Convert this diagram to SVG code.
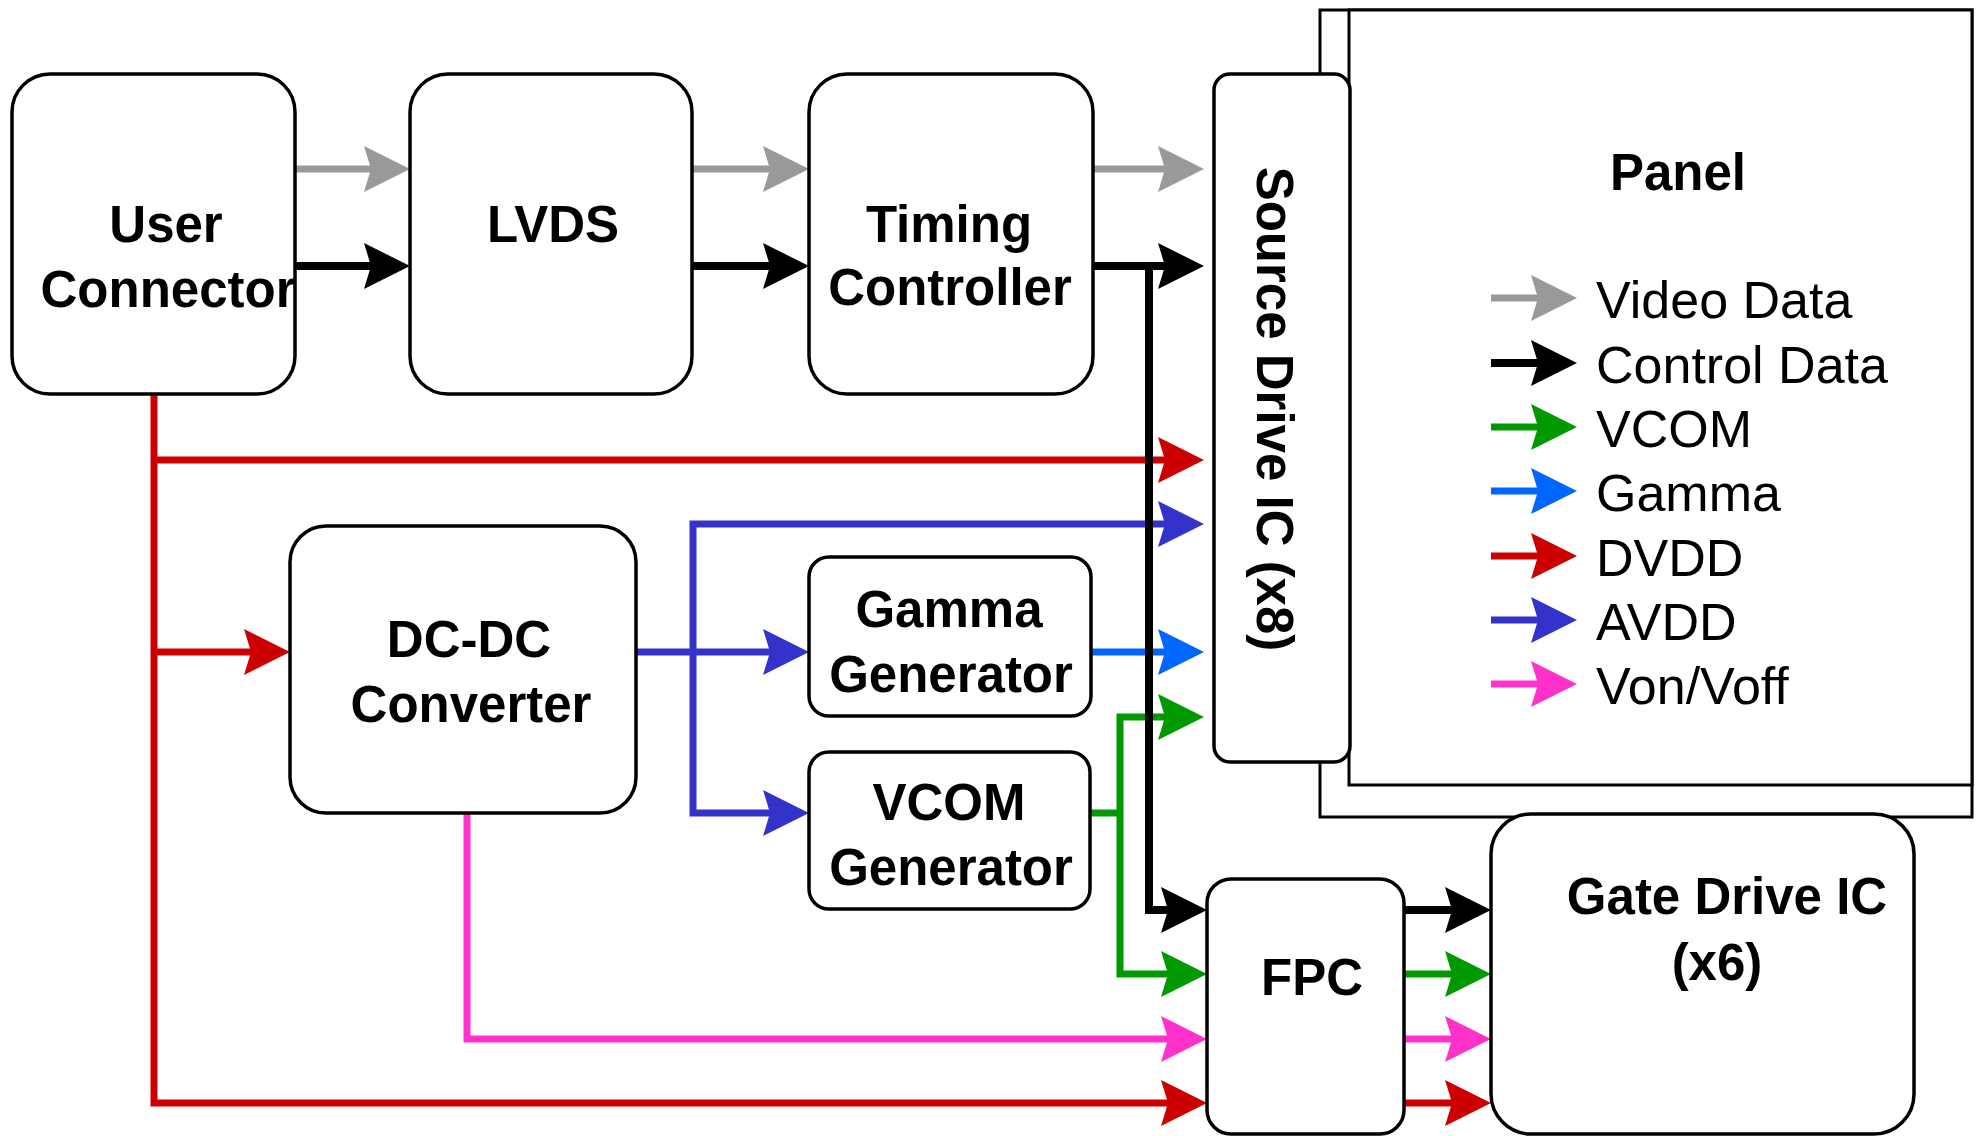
<svg xmlns="http://www.w3.org/2000/svg" width="1982" height="1136" viewBox="0 0 1982 1136">
<style>
.box{fill:#fff;stroke:#000;stroke-width:3.5}
.lbl{font-family:"Liberation Sans",Arial,sans-serif;font-weight:bold;font-size:51px;text-anchor:middle;fill:#000}
.leg{font-family:"Liberation Sans",Arial,sans-serif;font-size:52px;fill:#000}
.c{fill:none;stroke-width:7;stroke-linejoin:miter;stroke-linecap:butt}
.gray{stroke:#999999}.blk{stroke:#000;stroke-width:8}.red{stroke:#CC0000}.avdd{stroke:#3333CC}.gam{stroke:#0066FF}.grn{stroke:#009900}.pnk{stroke:#FF33CC}
</style>
<defs>
<marker id="aGray" viewBox="0 0 46 46" refX="26" refY="23" markerWidth="46" markerHeight="46" markerUnits="userSpaceOnUse" orient="auto"><path d="M0,0 L46,23 L0,46 L7,23 Z" fill="#999999"/></marker>
<marker id="aBlk" viewBox="0 0 46 46" refX="26" refY="23" markerWidth="46" markerHeight="46" markerUnits="userSpaceOnUse" orient="auto"><path d="M0,0 L46,23 L0,46 L7,23 Z" fill="#000"/></marker>
<marker id="aRed" viewBox="0 0 46 46" refX="26" refY="23" markerWidth="46" markerHeight="46" markerUnits="userSpaceOnUse" orient="auto"><path d="M0,0 L46,23 L0,46 L7,23 Z" fill="#CC0000"/></marker>
<marker id="aAvdd" viewBox="0 0 46 46" refX="26" refY="23" markerWidth="46" markerHeight="46" markerUnits="userSpaceOnUse" orient="auto"><path d="M0,0 L46,23 L0,46 L7,23 Z" fill="#3333CC"/></marker>
<marker id="aGam" viewBox="0 0 46 46" refX="26" refY="23" markerWidth="46" markerHeight="46" markerUnits="userSpaceOnUse" orient="auto"><path d="M0,0 L46,23 L0,46 L7,23 Z" fill="#0066FF"/></marker>
<marker id="aGrn" viewBox="0 0 46 46" refX="26" refY="23" markerWidth="46" markerHeight="46" markerUnits="userSpaceOnUse" orient="auto"><path d="M0,0 L46,23 L0,46 L7,23 Z" fill="#009900"/></marker>
<marker id="aPnk" viewBox="0 0 46 46" refX="26" refY="23" markerWidth="46" markerHeight="46" markerUnits="userSpaceOnUse" orient="auto"><path d="M0,0 L46,23 L0,46 L7,23 Z" fill="#FF33CC"/></marker>
</defs>
<rect width="1982" height="1136" fill="#fff"/>

<g id="panel">
<rect x="1320" y="10" width="652" height="807" fill="#fff" stroke="#000" stroke-width="3"/>
<rect x="1349" y="10" width="623" height="775" fill="#fff" stroke="#000" stroke-width="3"/>
<text class="lbl" x="1678" y="190">Panel</text>
</g>

<g id="legend">
<path class="c gray" d="M1491,298 H1557" marker-end="url(#aGray)"/>
<path class="c blk" d="M1491,363 H1557" marker-end="url(#aBlk)"/>
<path class="c grn" d="M1491,427 H1557" marker-end="url(#aGrn)"/>
<path class="c gam" d="M1491,491 H1557" marker-end="url(#aGam)"/>
<path class="c red" d="M1491,556 H1557" marker-end="url(#aRed)"/>
<path class="c avdd" d="M1491,620 H1557" marker-end="url(#aAvdd)"/>
<path class="c pnk" d="M1491,684 H1557" marker-end="url(#aPnk)"/>
<text class="leg" x="1596" y="318">Video Data</text>
<text class="leg" x="1596" y="383">Control Data</text>
<text class="leg" x="1596" y="447">VCOM</text>
<text class="leg" x="1596" y="511">Gamma</text>
<text class="leg" x="1596" y="576">DVDD</text>
<text class="leg" x="1596" y="640">AVDD</text>
<text class="leg" x="1596" y="704">Von/Voff</text>
</g>

<g id="connectors">
<path class="c gray" d="M295,169 H390" marker-end="url(#aGray)"/>
<path class="c gray" d="M692,169 H789" marker-end="url(#aGray)"/>
<path class="c gray" d="M1093,169 H1184" marker-end="url(#aGray)"/>
<path class="c red" d="M154,394 V1103 H1187" marker-end="url(#aRed)"/>
<path class="c red" d="M154,460 H1184" marker-end="url(#aRed)"/>
<path class="c red" d="M154,652 H270" marker-end="url(#aRed)"/>
<path class="c red" d="M1404,1103 H1471" marker-end="url(#aRed)"/>
<path class="c avdd" d="M636,652 H789" marker-end="url(#aAvdd)"/>
<path class="c avdd" d="M693,652 V524 H1184" marker-end="url(#aAvdd)"/>
<path class="c avdd" d="M693,652 V813 H789" marker-end="url(#aAvdd)"/>
<path class="c gam" d="M1091,652 H1184" marker-end="url(#aGam)"/>
<path class="c grn" d="M1090,813 H1120"/>
<path class="c grn" d="M1120,813 V717 H1184" marker-end="url(#aGrn)"/>
<path class="c grn" d="M1120,813 V974 H1187" marker-end="url(#aGrn)"/>
<path class="c grn" d="M1404,974 H1471" marker-end="url(#aGrn)"/>
<path class="c pnk" d="M467,813 V1039 H1187" marker-end="url(#aPnk)"/>
<path class="c pnk" d="M1404,1039 H1471" marker-end="url(#aPnk)"/>
<path class="c blk" d="M295,266 H390" marker-end="url(#aBlk)"/>
<path class="c blk" d="M692,266 H789" marker-end="url(#aBlk)"/>
<path class="c blk" d="M1093,266 H1184" marker-end="url(#aBlk)"/>
<path class="c blk" d="M1149,266 V910 H1187" marker-end="url(#aBlk)"/>
<path class="c blk" d="M1404,910 H1471" marker-end="url(#aBlk)"/>
</g>

<g id="user-connector">
<rect class="box" x="12" y="74" width="283" height="320" rx="38" ry="38"/>
<text class="lbl" x="166" y="242">User</text>
<text class="lbl" x="168" y="307">Connector</text>
</g>
<g id="lvds">
<rect class="box" x="410" y="74" width="282" height="320" rx="38" ry="38"/>
<text class="lbl" x="553" y="242">LVDS</text>
</g>
<g id="timing-controller">
<rect class="box" x="809" y="74" width="284" height="320" rx="38" ry="38"/>
<text class="lbl" x="949" y="242">Timing</text>
<text class="lbl" x="950" y="305">Controller</text>
</g>
<g id="source-drive">
<rect class="box" x="1214" y="74" width="136" height="688" rx="16" ry="16"/>
<text class="lbl" transform="translate(1257,409) rotate(90)">Source Drive IC (x8)</text>
</g>
<g id="dcdc">
<rect class="box" x="290" y="526" width="346" height="287" rx="36" ry="36"/>
<text class="lbl" x="469" y="657">DC-DC</text>
<text class="lbl" x="471" y="722">Converter</text>
</g>
<g id="gamma-generator">
<rect class="box" x="809" y="557" width="282" height="159" rx="20" ry="20"/>
<text class="lbl" x="949" y="627">Gamma</text>
<text class="lbl" x="951" y="692">Generator</text>
</g>
<g id="vcom-generator">
<rect class="box" x="809" y="752" width="281" height="157" rx="20" ry="20"/>
<text class="lbl" x="949" y="820">VCOM</text>
<text class="lbl" x="951" y="885">Generator</text>
</g>
<g id="fpc">
<rect class="box" x="1207" y="879" width="197" height="255" rx="24" ry="24"/>
<text class="lbl" x="1312" y="995">FPC</text>
</g>
<g id="gate-drive">
<rect class="box" x="1491" y="814" width="423" height="320" rx="40" ry="40"/>
<text class="lbl" x="1727" y="914">Gate Drive IC</text>
<text class="lbl" x="1717" y="980">(x6)</text>
</g>
</svg>
